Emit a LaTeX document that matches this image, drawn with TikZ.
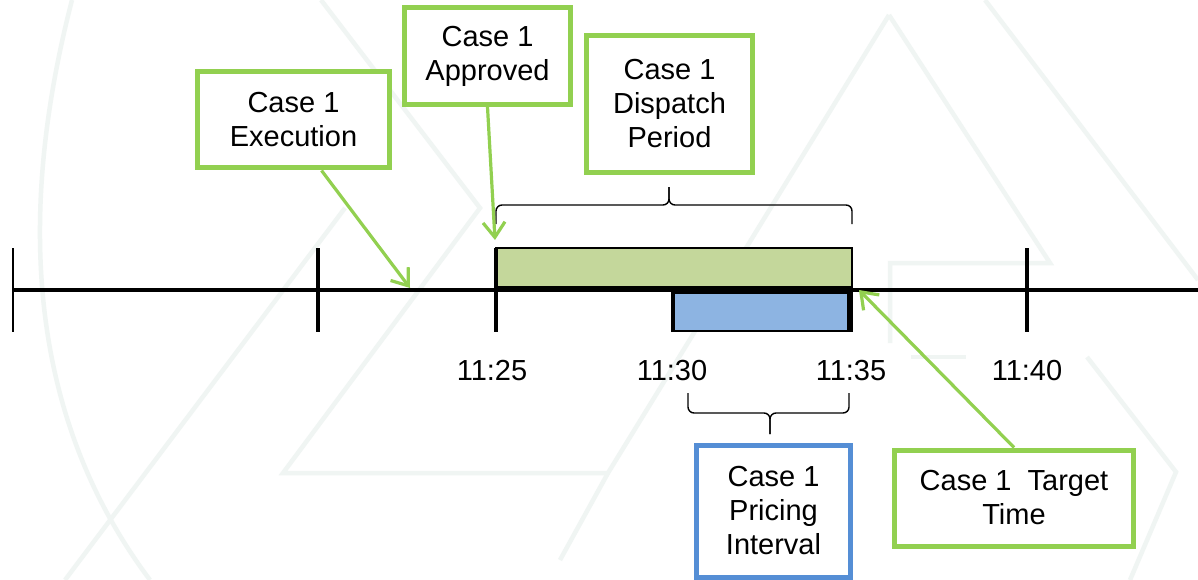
\documentclass[tikz,border=0pt]{standalone}
\usepackage{fontspec}
\setmainfont{Liberation Sans}
\usetikzlibrary{arrows.meta,calc}
\definecolor{cgreen}{HTML}{92D050}
\definecolor{cblue}{HTML}{558ED5}
\definecolor{barg}{HTML}{C4D79B}
\definecolor{barb}{HTML}{8DB4E2}
\definecolor{wmark}{HTML}{F0F5F3}
\begin{document}
\begin{tikzpicture}[x=1pt,y=-1pt,
  txt/.style={font=\fontsize{29}{34}\selectfont, align=center, inner sep=0pt},
  gbox/.style={txt, draw=cgreen, line width=5pt, fill=white},
  bbox/.style={txt, draw=cblue, line width=5pt, fill=white},
  garrow/.style={draw=cgreen, line width=3.2pt, -{Straight Barb[length=15pt,width=22pt]}},
  axis/.style={line width=3.5pt, black},
  bracestyle/.style={line width=1.4pt, rounded corners=6pt},
  wm/.style={draw=wmark, line width=4.5pt}]
\useasboundingbox (0,0) rectangle (1198,580);
\fill[white] (0,0) rectangle (1198,580);
% faint watermark
\draw[wm] (72,0) .. controls (15,220) and (30,420) .. (150,580);
\draw[wm] (321,0) -- (480,208) -- (283,473) -- (608,473);
\draw[wm] (345,208) -- (65,580);
\draw[wm] (889,15) -- (608,473) -- (560,560);
\draw[wm] (889,15) -- (1050,263) -- (890,263) -- (890,343);
\draw[wm] (985,0) -- (1198,280);
\draw[wm] (911,357) -- (966,357);
\draw[wm] (1087,357) -- (1176,472) -- (1130,580);
% bars
\draw[fill=barg, line width=1.5pt] (496,248) rectangle (852,287);
\draw[fill=barb, line width=1.5pt] (673,293) rectangle (848,331);
% timeline
\coordinate (tlstart) at (13,290);
\coordinate (tlend) at (1198,290);
\draw[axis] (tlstart) -- (tlend);
\draw[line width=2pt] (13,248) -- (13,332);
\draw[axis] (318,248) -- (318,332);
\draw[axis] (496,248) -- (496,332);
\draw[axis] (1027,248) -- (1027,332);
\draw[axis] (673,290) -- (673,332);
\draw[axis] (851,290) -- (851,332);
% time labels
\node[txt] (t25) at (492,371) {11:25};
\node[txt] (t30) at (672,371) {11:30};
\node[txt] (t35) at (851,371) {11:35};
\node[txt] (t40) at (1027,371) {11:40};
% braces
\draw[bracestyle] (496,224) -- (496,205) -- (669,205) -- (669,187);
\draw[bracestyle] (852,224) -- (852,205) -- (669,205) -- (669,187);
\draw[bracestyle] (688,393) -- (688,413) -- (770,413) -- (770,434);
\draw[bracestyle] (849,393) -- (849,413) -- (770,413) -- (770,434);
% boxes
\node[gbox, minimum width=192pt, minimum height=96pt] (exec) at (293.5,120) {Case 1\\Execution};
\node[gbox, minimum width=166pt, minimum height=97pt] (appr) at (487.5,56) {Case 1\\Approved};
\node[gbox, minimum width=166pt, minimum height=137pt] (disp) at (669.5,104) {Case 1\\Dispatch\\Period};
\node[bbox, minimum width=154pt, minimum height=132pt] (pric) at (773.5,511) {Case 1\\Pricing\\Interval};
\node[gbox, minimum width=239pt, minimum height=96pt] (targ) at (1014,498) {Case 1\ \ Target\\Time};
% arrows
\coordinate (execpt) at (410,288);
\coordinate (apprpt) at (495,240);
\coordinate (targpt) at (859,290);
\draw[garrow] ($(exec.south)+(28,0)$) -- (execpt);
\draw[garrow] (appr.south) -- (apprpt);
\draw[garrow] (targ.north) -- (targpt);
\end{tikzpicture}
\end{document}
